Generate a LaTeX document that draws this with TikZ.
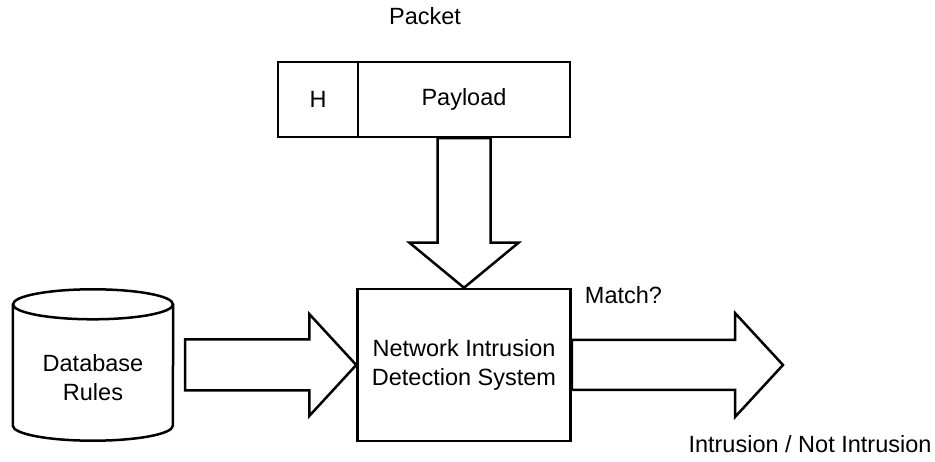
\documentclass[tikz,border=0pt]{standalone}
\usepackage{fontspec}
\setmainfont{Liberation Sans}
\usetikzlibrary{calc}

\tikzset{
  outline/.style={draw=black, line width=2.5pt},
  box/.style={outline, rectangle, inner sep=0pt, align=center},
  lbl/.style={inner sep=0pt, text height=0.72em, text depth=0pt},
  fatline/.style={draw=black, line width=2.5pt, line join=miter},
  every node/.append style={font=\fontsize{23.5}{28.5}\selectfont, text=black},
}

% Block arrow: #1 start, #2 tip, #3 shaft half-width, #4 head half-width, #5 head length
\newcommand\fatarrow[5]{%
  \coordinate (fa-h) at ($(#2)!#5!(#1)$);
  \draw[fatline] ($(#1)!#3!90:(#2)$) -- ($(fa-h)!#3!90:(#2)$)
    -- ($(fa-h)!#4!90:(#2)$) -- (#2) -- ($(fa-h)!#4!-90:(#2)$)
    -- ($(fa-h)!#3!-90:(#2)$) -- ($(#1)!#3!-90:(#2)$) -- cycle;
}

\begin{document}
\begin{tikzpicture}[x=1pt, y=1pt]
\useasboundingbox (0,0) rectangle (935,-462);

% packet
\node[lbl] (packetlbl) at (425,-20.5) {Packet};
\node[box, minimum width=80pt, minimum height=75pt] (hdr) at (318,-99.5) {H};
\node[box, minimum width=212pt, minimum height=75pt] (payload) at (464,-99.5) {Payload};

% detection system
\node[box, minimum width=213pt, minimum height=152pt] (nids) at (464,-365)
  {Network Intrusion\\Detection System};

% rule database (cylinder)
\node[rectangle, inner sep=0pt, minimum width=160pt, minimum height=151pt] (db) at (93,-365) {};
\draw[outline] ([yshift=-15pt]db.north) ellipse [x radius=80pt, y radius=15pt];
\draw[outline] ([yshift=-15pt]db.north west) -- ([yshift=15pt]db.south west)
  arc[start angle=180, end angle=360, x radius=80pt, y radius=15pt]
  -- ([yshift=-15pt]db.north east);
\node[inner sep=0pt, align=center] (dbtext) at ([yshift=-12.5pt]db.center) {Database\\Rules};

% outputs
\node[lbl] (matchlbl) at (623.5,-300) {Match?};
\node[lbl] (resultlbl) at (810,-449) {Intrusion / Not Intrusion};

% flows
\coordinate (dbout) at ([xshift=12pt]db.east);
\coordinate (resout) at (783,-365);
\fatarrow{payload.south}{nids.north}{26.5pt}{54.5pt}{45pt}
\fatarrow{dbout}{nids.west}{25.5pt}{51pt}{47pt}
\fatarrow{nids.east}{resout}{25pt}{52pt}{48pt}
\end{tikzpicture}
\end{document}
